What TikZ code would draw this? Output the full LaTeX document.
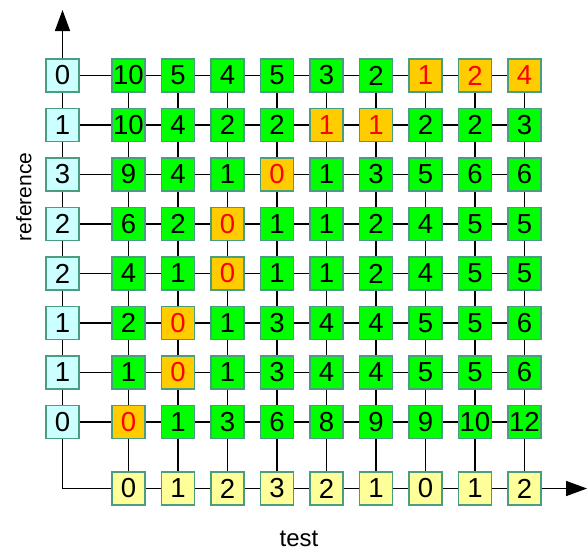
\documentclass[tikz,border=0pt]{standalone}
\usepackage{fontspec}
\setmainfont{Liberation Sans}
\usetikzlibrary{arrows.meta}
\definecolor{bordc}{HTML}{4A9E80}
\definecolor{fillg}{HTML}{00FF00}
\definecolor{fillo}{HTML}{FFCC00}
\definecolor{txtg}{HTML}{000000}
\definecolor{txto}{HTML}{FF0000}
\definecolor{refc}{HTML}{CCFFFF}
\definecolor{testc}{HTML}{FFFF99}
\begin{document}
\begin{tikzpicture}[x=1pt,y=-1pt,
  cell/.style={draw=bordc, line width=1.3pt, minimum size=33pt, inner sep=0pt,
    font=\fontsize{27.5}{27.5}\selectfont},
  link/.style={draw=black, line width=1.6pt},
  axisarrow/.style={link, -{Triangle[length=21pt,width=15pt]}}]
\useasboundingbox (0,0) rectangle (587,550);
% grid
\foreach \row [count=\i from 0] in {
  {10/g,5/g,4/g,5/g,3/g,2/g,1/o,2/o,4/o},
  {10/g,4/g,2/g,2/g,1/o,1/o,2/g,2/g,3/g},
  {9/g,4/g,1/g,0/o,1/g,3/g,5/g,6/g,6/g},
  {6/g,2/g,0/o,1/g,1/g,2/g,4/g,5/g,5/g},
  {4/g,1/g,0/o,1/g,1/g,2/g,4/g,5/g,5/g},
  {2/g,0/o,1/g,3/g,4/g,4/g,5/g,5/g,6/g},
  {1/g,0/o,1/g,3/g,4/g,4/g,5/g,5/g,6/g},
  {0/o,1/g,3/g,6/g,8/g,9/g,9/g,10/g,12/g}}
{
  \foreach \v/\s [count=\j from 0] in \row {
    \node[cell, fill=fill\s, text=txt\s] (g\i-\j) at ({128.5+49.5*\j},{75.5+49.5*\i}) {\v};
  }
}
% reference column
\foreach \v [count=\i from 0] in {0,1,3,2,2,1,1,0}
  \node[cell, fill=refc] (r\i) at (62.5,{75.5+49.5*\i}) {\v};
% test row
\foreach \v [count=\j from 0] in {0,1,2,3,2,1,0,1,2}
  \node[cell, fill=testc] (t\j) at ({128.5+49.5*\j},488.5) {\v};
% horizontal links
\foreach \i in {0,...,7} {
  \draw[link] (r\i) -- (g\i-0);
  \foreach \j in {0,...,7} {
    \pgfmathtruncatemacro\k{\j+1}
    \draw[link] (g\i-\j) -- (g\i-\k);
  }
}
\foreach \j in {0,...,7} {
  \pgfmathtruncatemacro\k{\j+1}
  \draw[link] (t\j) -- (t\k);
}
% vertical links
\foreach \i in {0,...,6} {
  \pgfmathtruncatemacro\k{\i+1}
  \draw[link] (r\i) -- (r\k);
  \foreach \j in {0,...,8} {
    \draw[link] (g\i-\j) -- (g\k-\j);
  }
}
\foreach \j in {0,...,8} {
  \draw[link] (g7-\j) -- (t\j);
}
% axes
\coordinate (ytip) at (62.5,10);
\coordinate (corner) at (62.5,488.5);
\coordinate (xtip) at (587,488.5);
\draw[axisarrow] (r0) -- (ytip);
\draw[link] (r7) -- (corner) -- (t0);
\draw[axisarrow] (t8) -- (xtip);
% labels
\node[rotate=90, font=\fontsize{21}{21}\selectfont] (ylab) at (24,197) {reference};
\node[font=\fontsize{24}{24}\selectfont] (xlab) at (299,538.5) {test};
\end{tikzpicture}
\end{document}
